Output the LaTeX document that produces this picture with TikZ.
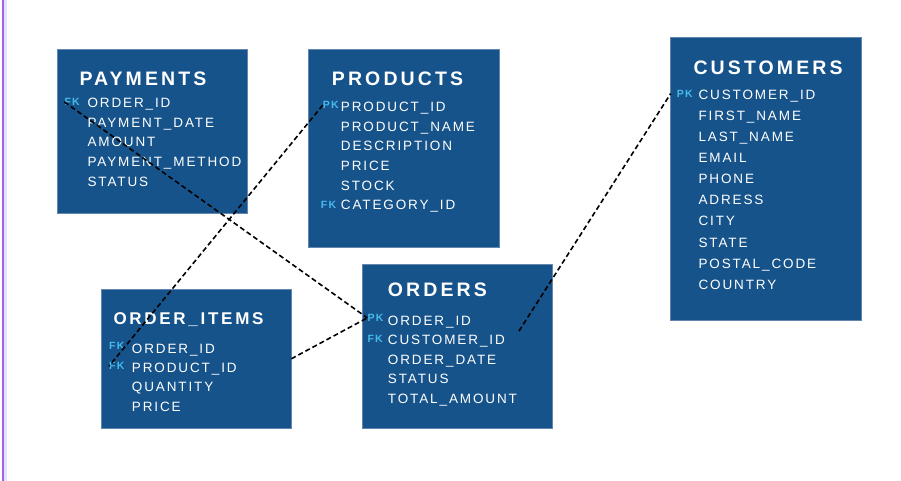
\documentclass[tikz,border=0pt]{standalone}
\usepackage{fontspec}
\setmainfont{Liberation Sans}
\newfontfamily\rowfont[LetterSpace=14]{Liberation Sans}
\newfontfamily\titlefont[LetterSpace=16]{Liberation Sans}
\newfontfamily\keyfont[LetterSpace=12]{Liberation Sans}
\definecolor{tblblue}{RGB}{22,83,138}
\definecolor{tbledge}{RGB}{100,135,175}
\definecolor{keyblue}{RGB}{70,186,235}
\definecolor{edgepurple}{RGB}{160,96,240}
\definecolor{edgelav}{RGB}{230,224,250}
\tikzset{
  tbl/.style={fill=tblblue, draw=tbledge, line width=0.6pt, anchor=north west, inner sep=0pt},
  row/.style={anchor=base west, inner sep=0pt, text=white, font=\rowfont\fontsize{13.5}{16}\selectfont},
  ttl/.style={anchor=base west, inner sep=0pt, text=white, font=\titlefont\bfseries\fontsize{19.5}{22}\selectfont},
  ttlsmall/.style={ttl, font=\titlefont\bfseries\fontsize{17}{20}\selectfont},
  key/.style={anchor=base west, inner sep=0pt, text=keyblue, font=\keyfont\bfseries\fontsize{10.5}{12}\selectfont},
  rel/.style={draw=black, line width=1.6pt, dash pattern=on 5pt off 3pt}
}
\begin{document}
\begin{tikzpicture}[x=1pt,y=-1pt]
\useasboundingbox (0,0) rectangle (901,481);
\fill[white] (0,0) rectangle (901,481);
\fill[edgepurple] (2,0) rectangle (4,481);
\fill[edgelav] (4,0) rectangle (6.7,481);

% PAYMENTS
\node[tbl, minimum width=190pt, minimum height=164pt] (pay) at (57.3,49.3) {};
\node[ttl] (payT) at (79.3,85.7) {PAYMENTS};
\node[key] (payFK) at (64.3,105.5) {FK};
\node[row] (payR1) at (87.3,107.3) {ORDER\_ID};
\node[row] (payR2) at (87.3,127.1) {PAYMENT\_DATE};
\node[row] (payR3) at (87.3,146.9) {AMOUNT};
\node[row] (payR4) at (87.3,166.4) {PAYMENT\_METHOD};
\node[row] (payR5) at (87.3,186) {STATUS};

% PRODUCTS
\node[tbl, minimum width=190.7pt, minimum height=198pt] (prod) at (308.3,49.3) {};
\node[ttl] (prodT) at (331.7,85.7) {PRODUCTS};
\node[key] (prodPK) at (322.7,108.8) {PK};
\node[key] (prodFK) at (320.7,208.2) {FK};
\node[row] (prodR1) at (340.7,111.7) {PRODUCT\_ID};
\node[row] (prodR2) at (340.7,131.4) {PRODUCT\_NAME};
\node[row] (prodR3) at (340.7,151) {DESCRIPTION};
\node[row] (prodR4) at (340.7,170.6) {PRICE};
\node[row] (prodR5) at (340.7,190) {STOCK};
\node[row] (prodR6) at (340.7,209.5) {CATEGORY\_ID};

% CUSTOMERS
\node[tbl, minimum width=191pt, minimum height=283.3pt] (cust) at (670,36.7) {};
\node[ttl] (custT) at (693.3,74.3) {CUSTOMERS};
\node[key] (custPK) at (676.7,97.2) {PK};
\node[row] (custR1) at (698.3,99.3) {CUSTOMER\_ID};
\node[row] (custR2) at (698.3,120.4) {FIRST\_NAME};
\node[row] (custR3) at (698.3,141.5) {LAST\_NAME};
\node[row] (custR4) at (698.3,162.6) {EMAIL};
\node[row] (custR5) at (698.3,183.7) {PHONE};
\node[row] (custR6) at (698.3,204.8) {ADRESS};
\node[row] (custR7) at (698.3,225.9) {CITY};
\node[row] (custR8) at (698.3,247) {STATE};
\node[row] (custR9) at (698.3,268.1) {POSTAL\_CODE};
\node[row] (custR10) at (698.3,289.2) {COUNTRY};

% ORDER_ITEMS
\node[tbl, minimum width=190pt, minimum height=138.4pt] (items) at (100.7,289.3) {};
\node[ttlsmall] (itemsT) at (113.3,324.3) {ORDER\_ITEMS};
\node[key] (itemFK1) at (109,349.8) {FK};
\node[key] (itemFK2) at (109,369.8) {FK};
\node[row] (itemR1) at (131.7,353) {ORDER\_ID};
\node[row] (itemR2) at (131.7,372.4) {PRODUCT\_ID};
\node[row] (itemR3) at (131.7,391.8) {QUANTITY};
\node[row] (itemR4) at (131.7,411.2) {PRICE};

% ORDERS
\node[tbl, minimum width=190.6pt, minimum height=163.4pt] (ord) at (361.7,264.3) {};
\node[ttl] (ordT) at (387.7,296.7) {ORDERS};
\node[key] (ordPK) at (367.3,321.5) {PK};
\node[key] (ordFK) at (367.3,342.8) {FK};
\node[row] (ordR1) at (387.7,325) {ORDER\_ID};
\node[row] (ordR2) at (387.7,344.6) {CUSTOMER\_ID};
\node[row] (ordR3) at (387.7,364.2) {ORDER\_DATE};
\node[row] (ordR4) at (387.7,383.8) {STATUS};
\node[row] (ordR5) at (387.7,403.4) {TOTAL\_AMOUNT};

% relationships
\draw[rel] (payFK.west) -- (ordPK.west);
\draw[rel] (prodPK.west) -- (itemFK2.west);
\draw[rel] (items.east) -- (ordPK.west);
\draw[rel] ([xshift=14pt,yshift=4pt]ordR2.north east) -- ([xshift=-6pt]custPK.west);
\end{tikzpicture}
\end{document}
